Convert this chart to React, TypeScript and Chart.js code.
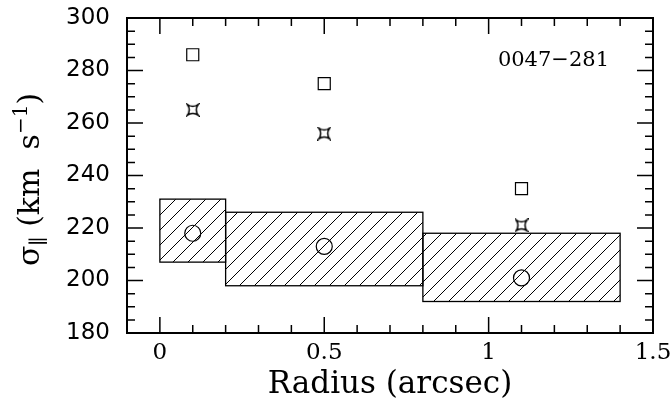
import React, { useEffect, useRef } from 'react';
import { Chart, registerables } from 'chart.js';

Chart.register(...registerables);

// ---- data ----
const radiusPts = [0.1, 0.5, 1.1];
const sigmaCircle = [218, 213, 201];
const sigmaSquare = [286, 275, 235];
const sigmaStar = [265, 256, 221];

const boxXStart = [0, 0.2, 0.8];
const boxXEnd = [0.2, 0.8, 1.4];
const boxLow = [207, 198, 192];
const boxHigh = [231, 226, 218];

const xMajorTicks = [0, 0.5, 1, 1.5];
const xMinorTicks = [0.1, 0.2, 0.3, 0.4, 0.6, 0.7, 0.8, 0.9, 1.1, 1.2, 1.3, 1.4];
const yMajorTicks = [200, 220, 240, 260, 280];
const yMinorTicks = [185, 190, 195, 205, 210, 215, 225, 230, 235, 245, 250, 255, 265, 270, 275, 285, 290, 295];

const panelLabel = '0047\u2212281';
const xTitle = 'Radius (arcsec)';

const SERIF = '"DejaVu Serif", serif';
const SANS = '"DejaVu Sans", sans-serif';

function makeStar(size: number): HTMLCanvasElement {
  const c = document.createElement('canvas');
  c.width = size;
  c.height = size;
  const g = c.getContext('2d')!;
  g.strokeStyle = '#000';
  g.lineWidth = 1.5;
  const m = 1.5;
  const s = size - 1.5;
  const cx = size / 2;
  const k = 4;
  g.beginPath();
  g.moveTo(m, m);
  g.quadraticCurveTo(cx, m + k, s, m);
  g.quadraticCurveTo(s - k, cx, s, s);
  g.quadraticCurveTo(cx, s - k, m, s);
  g.quadraticCurveTo(m + k, cx, m, m);
  g.closePath();
  g.stroke();
  return c;
}

const hatchPlugin = {
  id: 'hatchBoxes',
  beforeDatasetsDraw(chart: any) {
    const { ctx, scales } = chart;
    const x = scales.x;
    const y = scales.y;
    ctx.save();
    ctx.strokeStyle = '#000';
    for (let i = 0; i < boxXStart.length; i++) {
      const l = x.getPixelForValue(boxXStart[i]);
      const r = x.getPixelForValue(boxXEnd[i]);
      const t = y.getPixelForValue(boxHigh[i]);
      const b = y.getPixelForValue(boxLow[i]);
      ctx.save();
      ctx.beginPath();
      ctx.rect(l, t, r - l, b - t);
      ctx.clip();
      ctx.beginPath();
      ctx.lineWidth = 1;
      const step = 15;
      let K = Math.ceil((l + t) / step) * step;
      for (; K <= r + b; K += step) {
        ctx.moveTo(K - b, b);
        ctx.lineTo(K - t, t);
      }
      ctx.stroke();
      ctx.restore();
      ctx.lineWidth = 1.3;
      ctx.strokeRect(l, t, r - l, b - t);
    }
    ctx.restore();
  },
};

const framePlugin = {
  id: 'frameTicks',
  afterDraw(chart: any) {
    const { ctx, chartArea, scales } = chart;
    const x = scales.x;
    const y = scales.y;
    const { left, right, top, bottom } = chartArea;
    ctx.save();
    ctx.strokeStyle = '#000';
    ctx.lineWidth = 1.5;
    ctx.beginPath();
    const major = 16;
    const minor = 8;
    const xt = (v: number, len: number) => {
      const p = x.getPixelForValue(v);
      ctx.moveTo(p, bottom);
      ctx.lineTo(p, bottom - len);
      ctx.moveTo(p, top);
      ctx.lineTo(p, top + len);
    };
    const yt = (v: number, len: number) => {
      const p = y.getPixelForValue(v);
      ctx.moveTo(left, p);
      ctx.lineTo(left + len, p);
      ctx.moveTo(right, p);
      ctx.lineTo(right - len, p);
    };
    xMajorTicks.forEach((v) => xt(v, major));
    xMinorTicks.forEach((v) => xt(v, minor));
    yMajorTicks.forEach((v) => yt(v, major));
    yMinorTicks.forEach((v) => yt(v, minor));
    ctx.stroke();
    ctx.lineWidth = 2;
    ctx.strokeRect(left, top, right - left, bottom - top);

    // panel label
    ctx.fillStyle = '#000';
    ctx.font = `21px ${SERIF}`;
    ctx.textAlign = 'right';
    ctx.textBaseline = 'alphabetic';
    ctx.fillText(panelLabel, right - 44, top + 48);

    // y title with subscript / superscript
    const big = 30;
    const small = 20;
    const parts: [string, number, number][] = [
      ['\u03C3', big, 0],
      ['\u2225', small, 6],
      [' (km  s', big, 0],
      ['\u22121', small, -12],
      [')', big, 0],
    ];
    let total = 0;
    const widths: number[] = [];
    for (const [txt, sz] of parts) {
      ctx.font = `${sz}px ${SERIF}`;
      const w = ctx.measureText(txt).width;
      widths.push(w);
      total += w;
    }
    ctx.translate(39, (top + bottom) / 2 + 4);
    ctx.rotate(-Math.PI / 2);
    ctx.textAlign = 'left';
    let cx = -total / 2;
    parts.forEach(([txt, sz, dy], i) => {
      ctx.font = `${sz}px ${SERIF}`;
      ctx.fillText(txt, cx, dy);
      cx += widths[i];
    });
    ctx.restore();
  },
};

const zeroPad = (s: any) => {
  s.paddingTop = 0;
  s.paddingBottom = 0;
  s.paddingLeft = 0;
  s.paddingRight = 0;
};

export default function App() {
  const ref = useRef<HTMLCanvasElement | null>(null);

  useEffect(() => {
    if (!ref.current) return;
    const star = makeStar(14);
    const chart = new Chart(ref.current, {
      type: 'scatter',
      data: {
        datasets: [
          {
            data: radiusPts.map((r, i) => ({ x: r, y: sigmaCircle[i] })),
            pointStyle: 'circle',
            pointRadius: 8,
            borderColor: '#000',
            backgroundColor: 'rgba(0,0,0,0)',
            borderWidth: 1.2,
          },
          {
            data: radiusPts.map((r, i) => ({ x: r, y: sigmaSquare[i] })),
            pointStyle: 'rect',
            pointRadius: 8.5,
            borderColor: '#000',
            backgroundColor: 'rgba(0,0,0,0)',
            borderWidth: 1.2,
          },
          {
            data: radiusPts.map((r, i) => ({ x: r, y: sigmaStar[i] })),
            pointStyle: star as any,
            pointRadius: 7,
            borderColor: '#000',
            backgroundColor: 'rgba(0,0,0,0)',
          },
        ],
      },
      options: {
        animation: false,
        responsive: true,
        maintainAspectRatio: false,
        layout: { padding: { top: 18, right: 19, left: 0, bottom: 0 } },
        plugins: {
          legend: { display: false },
          tooltip: { enabled: false },
        },
        scales: {
          x: {
            type: 'linear',
            min: -0.1,
            max: 1.5,
            grid: { display: false, drawTicks: false },
            border: { display: false },
            afterBuildTicks: (s: any) => {
              s.ticks = xMajorTicks.map((v) => ({ value: v }));
            },
            afterFit: (s: any) => {
              s.height = 78;
              zeroPad(s);
            },
            ticks: {
              color: '#000',
              padding: 6,
              maxRotation: 0,
              font: { family: SERIF, size: 23 },
              callback: (v: any) => String(v),
            },
            title: {
              display: true,
              text: xTitle,
              color: '#000',
              font: { family: SERIF, size: 31 },
              padding: { top: 0, bottom: 7 },
            },
          },
          y: {
            type: 'linear',
            min: 180,
            max: 300,
            grid: { display: false, drawTicks: false },
            border: { display: false },
            afterFit: (s: any) => {
              s.width = 127;
              zeroPad(s);
            },
            ticks: {
              stepSize: 20,
              color: '#000',
              padding: 17,
              font: { family: SANS, size: 23 },
            },
          },
        },
      },
      plugins: [hatchPlugin, framePlugin],
    });
    return () => chart.destroy();
  }, []);

  return (
    <div style={{ position: 'absolute', left: 0, top: 0, width: 672, height: 411, background: '#fff' }}>
      <canvas ref={ref} />
    </div>
  );
}
